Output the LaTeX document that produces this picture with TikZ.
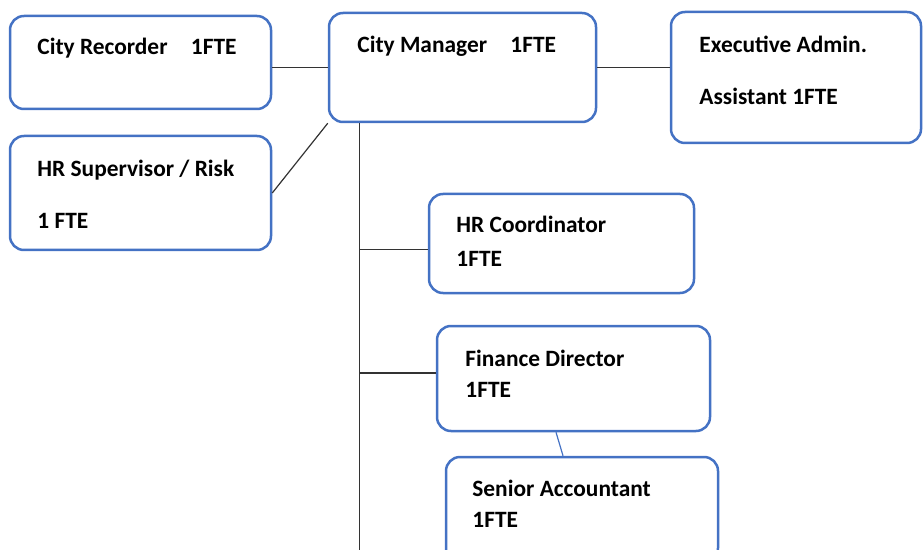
\documentclass[tikz,border=0pt]{standalone}
\usepackage{fontspec}
\setmainfont{Carlito}
\usepackage{tikz}
\usetikzlibrary{calc}
\definecolor{boxblue}{HTML}{4472C4}
\definecolor{linegray}{HTML}{333333}
\tikzset{
  post/.style={draw=boxblue, line width=1.25pt, rounded corners=7pt, inner sep=0pt},
  lbl/.style={anchor=base west, inner sep=0pt, font=\bfseries\fontsize{11.7}{14}\selectfont},
  link/.style={draw=linegray, line width=0.6pt}
}

\begin{document}
\begin{tikzpicture}[x=0.5pt, y=-0.5pt]
\useasboundingbox (0,0) rectangle (924,550);
\clip (0,0) rectangle (924,550);
% boxes
\node[post, minimum width=130.5pt, minimum height=46.5pt] (recorder) at (140.5,62.5) {};
\node[post, minimum width=130.5pt, minimum height=57pt] (hrsup) at (140.5,193) {};
\node[post, minimum width=133.5pt, minimum height=54.5pt] (manager) at (462.5,67.5) {};
\node[post, minimum width=125pt, minimum height=65.5pt] (execadmin) at (796,77.5) {};
\node[post, minimum width=132.5pt, minimum height=49.5pt] (hrcoord) at (561.5,243.5) {};
\node[post, minimum width=136.5pt, minimum height=52.5pt] (findir) at (573.5,378.5) {};
\node[post, minimum width=136pt, minimum height=52.5pt] (senacc) at (582,509.5) {};
% texts
\node[lbl] (recorder-t) at (37,55) {City Recorder\quad 1FTE};
\node[lbl] (hrsup-t) at (37,177) {HR Supervisor / Risk};
\node[lbl] (hrsup-f) at (37,229) {1 FTE};
\node[lbl] (manager-t) at (357,53) {City Manager\quad 1FTE};
\node[lbl] (execadmin-t) at (699,53) {Executive Admin.};
\node[lbl] (execadmin-f) at (699,105) {Assistant 1FTE};
\node[lbl] (hrcoord-t) at (456,233) {HR Coordinator};
\node[lbl] (hrcoord-f) at (456,266) {1FTE};
\node[lbl] (findir-t) at (465,366) {Finance Director};
\node[lbl] (findir-f) at (465,397) {1FTE};
\node[lbl] (senacc-t) at (472,496) {Senior Accountant};
\node[lbl] (senacc-f) at (472,527) {1FTE};
% connectors
\coordinate (trunktop) at ([xshift=16pt]manager.south west);
\coordinate (trunkend) at (trunktop |- 0,550);
\coordinate (hrcoord-in) at ([yshift=-3pt]hrcoord.west);
\coordinate (findir-in) at ([yshift=2.75pt]findir.west);
\draw[link] (manager.west) -- (recorder.east |- manager.west);
\draw[link] (manager.east) -- (execadmin.west |- manager.east);
\draw[link] (hrsup.east) -- (manager.south west);
\draw[link] (trunktop) -- (trunkend);
\draw[link] (hrcoord-in) -- (trunktop |- hrcoord-in);
\draw[link] (findir-in) -- (trunktop |- findir-in);
\draw[draw=boxblue, line width=0.6pt] ([xshift=-8.75pt]findir.south) -- ([xshift=-9.5pt]senacc.north);
\end{tikzpicture}
\end{document}
